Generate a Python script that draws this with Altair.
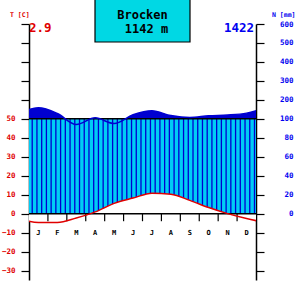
import altair as alt
import pandas as pd
import numpy as np

# ---- data ----
months = ["J", "F", "M", "A", "M", "J", "J", "A", "S", "O", "N", "D"]
temp = [-4.7, -4.7, -2.3, 0.9, 5.4, 8.2, 10.8, 10.2, 7.0, 3.2, 0.0, -2.6]
precip = [158, 128, 94, 105, 95, 121, 142, 117, 107, 116, 120, 130]
station = "Brocken"
elevation = "1142 m"
mean_temp = "2.9"
annual_precip = "1422"
temp_ticks = list(range(-30, 101, 10))

RED = "#E00000"
BLUE = "#0000F0"
DARK = "#0000D0"
CYAN = "#00CCF5"
BOX = "#00D8E4"
FONT = "DejaVu Sans Mono"

# precipitation in temperature units (0-100 mm -> 0-50, above 100 mm compressed 1:10)
def p2y(p):
    return p / 2 if p <= 100 else 50 + (p - 100) / 10

# curve table (December / January repeated at the edges so the curves wrap)
cx = [-0.5] + [i + 0.5 for i in range(12)] + [12.5]
ct = [temp[-1]] + temp + [temp[0]]
cp = [precip[-1]] + precip + [precip[0]]
curve = pd.DataFrame({"x": cx, "t": ct, "py": [p2y(v) for v in cp]})
curve["zero"] = 0.0
curve["fifty"] = 50.0

mdf = pd.DataFrame({"mx": [i + 0.5 for i in range(12)], "lab": months})
mdf["ly"] = -10.0
bdf = pd.DataFrame({"bx": list(range(1, 12))})
bdf["y0"] = 0.0
bdf["y1"] = -4.0
hdf = pd.DataFrame({"hx": 0.17 + 0.25 * np.arange(48)})
hdf["zero"] = 0.0
hdf["fifty"] = 50.0

ys = alt.Scale(domain=[-35, 100], nice=False, zero=False)
xs = alt.Scale(domain=[0, 12], nice=False, zero=False)
X = lambda f: alt.X(f, scale=xs, axis=None)
Y = lambda f, ax=None: alt.Y(f, scale=ys, axis=ax)

left_axis = alt.Axis(orient="left", values=temp_ticks, title=None, grid=False,
                     labelExpr="datum.value <= 50 ? datum.label : ''",
                     labelColor=RED, labelFont=FONT, labelFontWeight="bold", labelFontSize=7.5,
                     labelPadding=6, labelFlush=False, tickSize=8, tickColor="black",
                     domainColor="black", domainWidth=1.5, tickWidth=1.2)
right_axis = alt.Axis(orient="right", values=temp_ticks, title=None, grid=False,
                      labelExpr="datum.value < 0 ? '' : (datum.value <= 50 ? '' + (datum.value*2) : '' + ((datum.value-50)*10+100))",
                      labelColor=BLUE, labelFont=FONT, labelFontWeight="bold", labelFontSize=7.5,
                      labelAlign="right", labelPadding=29, labelFlush=False, tickSize=8,
                      tickColor="black", domainColor="black", domainWidth=1.5, tickWidth=1.2)

wet_hi = alt.Chart(curve).mark_area(color=DARK, interpolate="monotone", clip=True, opacity=1).encode(
    x=X("x:Q"), y=Y("py:Q"), y2="fifty:Q")
humid = alt.Chart(curve).mark_area(color=CYAN, clip=True, opacity=1).encode(
    x=X("x:Q"), y=Y("fifty:Q"), y2="zero:Q")
hatch = alt.Chart(hdf).mark_rule(color=DARK, strokeWidth=1.3).encode(
    x=X("hx:Q"), y=Y("zero:Q"), y2="fifty:Q")
erase = alt.Chart(curve).mark_area(color="white", interpolate="monotone", clip=True, opacity=1).encode(
    x=X("x:Q"), y=Y("t:Q"), y2="zero:Q")
zero_line = alt.Chart(pd.DataFrame({"v": [0.0]})).mark_rule(color="black", strokeWidth=1.5).encode(
    y=Y("v:Q", left_axis))
fifty_line = alt.Chart(pd.DataFrame({"v": [50.0]})).mark_rule(color="black", strokeWidth=1.5).encode(
    y=Y("v:Q", right_axis))
mticks = alt.Chart(bdf).mark_rule(color="black", strokeWidth=1.2).encode(
    x=X("bx:Q"), y=Y("y0:Q"), y2="y1:Q")
mlabels = alt.Chart(mdf).mark_text(font=FONT, fontWeight="bold", fontSize=7, color="black").encode(
    x=X("mx:Q"), y=Y("ly:Q"), text="lab:N")
tline = alt.Chart(curve).mark_line(color=RED, strokeWidth=1.5, interpolate="monotone", clip=True).encode(
    x=X("x:Q"), y=Y("t:Q"))
pline = alt.Chart(curve).mark_line(color=DARK, strokeWidth=1.5, interpolate="monotone", clip=True).encode(
    x=X("x:Q"), y=Y("py:Q"))

def label(txt, x, y, size, color, align="left"):
    return alt.Chart(pd.DataFrame({"s": [txt]})).mark_text(
        font=FONT, fontWeight="bold", fontSize=size, color=color, align=align, baseline="middle"
    ).encode(x=alt.value(x), y=alt.value(y), text="s:N")

box = alt.Chart(pd.DataFrame({"s": [station]})).mark_rect(
    fill=BOX, stroke="black", strokeWidth=1.2).encode(
    x=alt.value(66), x2=alt.value(161), y=alt.value(-25), y2=alt.value(18))

texts = [
    label("T [C]", -19, -9, 6.5, RED),
    label(mean_temp, 0, 3.5, 12.5, RED),
    label(annual_precip, 225, 3.5, 12.5, BLUE, "right"),
    label("N [mm]", 243, -9, 6.5, BLUE),
    box,
    label(station, 113.5, -9, 12, "black", "center"),
    label(elevation, 117.5, 4.5, 12, "black", "center"),
]

chart = alt.layer(
    wet_hi, humid, hatch, erase, zero_line, fifty_line, mticks, mlabels, tline, pline, *texts
).resolve_scale(y="independent").properties(
    width=227, height=256,
    autosize=alt.AutoSizeParams(type="none"),
    padding={"left": 29, "top": 24, "right": 45, "bottom": 2},
).configure_view(stroke=None)

chart.save("out.html", embed_options={"renderer": "svg", "actions": False})
